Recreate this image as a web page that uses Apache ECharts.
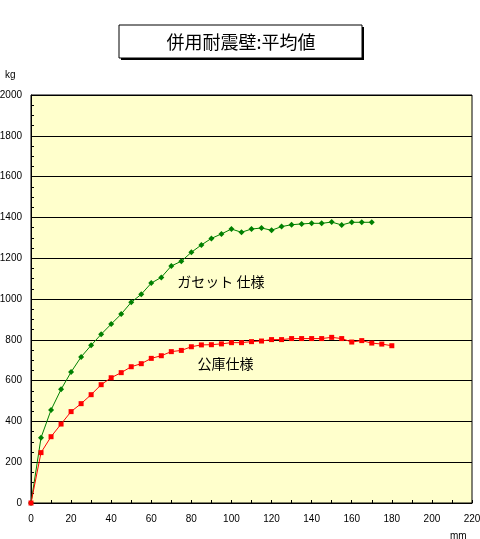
<!DOCTYPE html>
<html>
<head>
<meta charset="utf-8">
<script src="https://cdn.jsdelivr.net/npm/echarts@6/dist/echarts.min.js"></script>
<style>
  html, body { margin: 0; padding: 0; background: #fff; }
  #chart { width: 480px; height: 539px; }
</style>
</head>
<body>
<div id="chart"></div>
<script>
  // displacement (mm), every 5mm
  let dispGusset = [0, 5, 10, 15, 20, 25, 30, 35, 40, 45, 50, 55, 60, 65, 70, 75, 80, 85,
    90, 95, 100, 105, 110, 115, 120, 125, 130, 135, 140, 145, 150, 155, 160, 165, 170]
  let loadGusset = [0, 320, 456, 557, 642, 716, 773, 827, 877, 926, 984, 1023, 1078, 1106,
    1162, 1185, 1229, 1265, 1297, 1319, 1343, 1327, 1343, 1348, 1337, 1355, 1364, 1368,
    1371, 1371, 1377, 1363, 1376, 1376, 1376]

  let dispKouko = [0, 5, 10, 15, 20, 25, 30, 35, 40, 45, 50, 55, 60, 65, 70, 75, 80, 85,
    90, 95, 100, 105, 110, 115, 120, 125, 130, 135, 140, 145, 150, 155, 160, 165, 170, 175, 180]
  let loadKouko = [0, 247, 325, 387, 448, 487, 531, 580, 614, 639, 668, 683, 709, 722, 742,
    748, 766, 775, 776, 780, 786, 786, 791, 794, 801, 801, 806, 806, 806, 806, 812, 806,
    789, 796, 784, 779, 771]

  let titleText = '併用耐震壁:平均値'
  let gussetLabel = ['ガセット 仕様', [73, 1083]]
  let koukoLabel = ['公庫仕様', [83, 681]]

  let pair = (xs, ys) => xs.map((x, i) => [x, ys[i]])

  let chart = echarts.init(document.getElementById('chart'))
  let numFont = { fontFamily: 'Liberation Sans', fontSize: 10, color: '#000', formatter: v => String(v) }

  chart.setOption({
    animation: false,
    backgroundColor: '#fff',
    grid: {
      left: 31,
      right: 8,
      top: 95,
      bottom: 36,
      containLabel: false,
      outerBoundsMode: 'none',
      show: true,
      backgroundColor: '#FFFFCC',
      borderColor: '#000',
      borderWidth: 1
    },
    graphic: [
      {
        type: 'rect',
        shape: { x: 121, y: 27, width: 243, height: 33 },
        style: { fill: '#000' }
      },
      {
        type: 'rect',
        shape: { x: 119, y: 25, width: 243, height: 33 },
        style: { fill: '#fff', stroke: '#000', lineWidth: 1 }
      },
      {
        type: 'text',
        x: 241,
        y: 42,
        style: {
          text: titleText,
          fontFamily: 'Noto Sans CJK JP',
          fontSize: 18,
          fill: '#000',
          align: 'center',
          verticalAlign: 'middle'
        }
      },
      {
        type: 'text',
        x: 5,
        y: 75,
        style: { text: 'kg', fontFamily: 'Liberation Sans', fontSize: 10, fill: '#000', verticalAlign: 'middle' }
      },
      {
        type: 'text',
        x: 450,
        y: 536,
        style: { text: 'mm', fontFamily: 'Liberation Sans', fontSize: 10, fill: '#000', verticalAlign: 'middle' }
      }
    ],
    xAxis: {
      type: 'value',
      min: 0,
      max: 220,
      interval: 20,
      axisLine: { show: true, onZero: false, lineStyle: { color: '#000' } },
      axisTick: { show: true, inside: true, length: 3, lineStyle: { color: '#000' } },
      minorTick: { show: true, splitNumber: 2, length: 3, lineStyle: { color: '#000' } },
      splitLine: { show: false },
      axisLabel: Object.assign({ margin: 11 }, numFont)
    },
    yAxis: {
      type: 'value',
      min: 0,
      max: 2000,
      interval: 200,
      axisLine: { show: true, lineStyle: { color: '#000' } },
      axisTick: { show: true, inside: true, length: 3, lineStyle: { color: '#000' } },
      minorTick: { show: true, splitNumber: 4, length: 3, lineStyle: { color: '#000' } },
      splitLine: { show: true, lineStyle: { color: '#000', width: 1 } },
      axisLabel: Object.assign({ margin: 9 }, numFont)
    },
    series: [
      {
        name: 'ガセット仕様',
        type: 'line',
        data: pair(dispGusset, loadGusset),
        symbol: 'diamond',
        symbolSize: 6,
        itemStyle: { color: '#008000' },
        lineStyle: { color: '#008000', width: 1 },
        markPoint: {
          symbol: 'circle',
          symbolSize: 0,
          data: [{ coord: gussetLabel[1] }],
          label: {
            show: true,
            position: 'right',
            distance: 0,
            formatter: gussetLabel[0],
            fontFamily: 'Noto Sans CJK JP',
            fontSize: 14,
            color: '#000'
          }
        }
      },
      {
        name: '公庫仕様',
        type: 'line',
        data: pair(dispKouko, loadKouko),
        symbol: 'rect',
        symbolSize: 5,
        itemStyle: { color: '#FF0000' },
        lineStyle: { color: '#FF0000', width: 1 },
        markPoint: {
          symbol: 'circle',
          symbolSize: 0,
          data: [{ coord: koukoLabel[1] }],
          label: {
            show: true,
            position: 'right',
            distance: 0,
            formatter: koukoLabel[0],
            fontFamily: 'Noto Sans CJK JP',
            fontSize: 14,
            color: '#000'
          }
        }
      }
    ]
  })
</script>
</body>
</html>
